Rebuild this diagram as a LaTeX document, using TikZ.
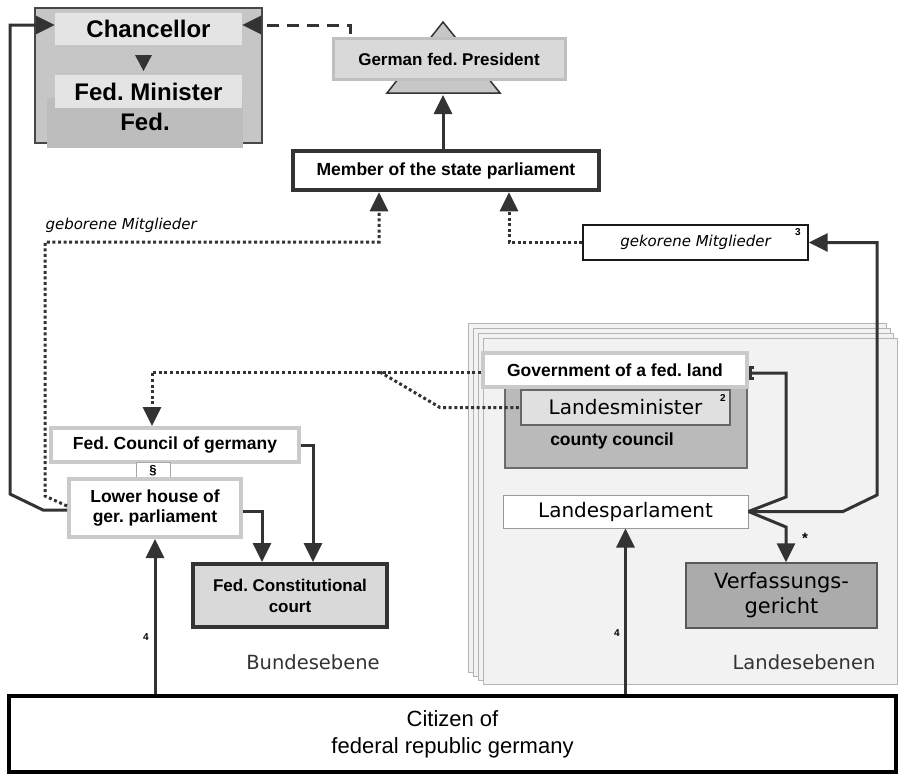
\documentclass[tikz,border=0pt]{standalone}
\usepackage{fontspec}
\setmainfont{Liberation Sans}
\newfontfamily\dejavu{DejaVu Sans}
\usetikzlibrary{arrows.meta}
\frenchspacing
\definecolor{ink}{HTML}{333333}
\definecolor{framegray}{HTML}{C6C6C6}
\definecolor{lightbox}{HTML}{E4E4E4}
\definecolor{softline}{HTML}{CACACA}
\definecolor{sheetfill}{HTML}{F2F2F2}
\definecolor{sheetline}{HTML}{B4B4B4}
\tikzset{
  bold/.style={font=\fontsize{17.5}{20.5}\selectfont\bfseries},
  bigbold/.style={font=\fontsize{24}{28}\selectfont\bfseries},
  dv/.style={font=\dejavu\fontsize{20}{25}\selectfont},
  dvit/.style={font=\dejavu\itshape\fontsize{15}{18}\selectfont},
  tiny/.style={font=\fontsize{10}{12}\selectfont\bfseries},
  plainbox/.style={rectangle, inner sep=0pt, align=center, text=black},
  softbox/.style={plainbox, draw=softline, line width=4pt, fill=white},
  conn/.style={draw=ink, line width=3pt},
  dotconn/.style={draw=ink, line width=3pt, dash pattern=on 3pt off 2.6pt},
  dashconn/.style={draw=ink, line width=3pt, dash pattern=on 12pt off 8pt},
  arr/.style={-{Triangle[length=19pt,width=18pt]}},
  sheet/.style={draw=sheetline, fill=sheetfill, line width=1pt},
}
\begin{document}
\begin{tikzpicture}[x=1pt,y=-1pt]
\useasboundingbox[fill=white] (0,0) rectangle (901,777);

% ---- federal government block ----
\node[plainbox, draw=ink!90, line width=2pt, fill=framegray,
      minimum width=227pt, minimum height=135pt] (fedgov) at (148.5,75.5) {};
\node[plainbox, fill=black!26, minimum width=196pt, minimum height=50pt,
      bigbold] (fedlbl) at (145,123) {\raisebox{2pt}{Fed.}};
\node[plainbox, fill=lightbox, minimum width=187pt, minimum height=32pt,
      bigbold] (chanc) at (148.5,29) {Chancellor};
\node[plainbox, fill=lightbox, minimum width=187pt, minimum height=33pt,
      bigbold] (fmin) at (148.5,91.5) {Fed. Minister};
\fill[ink] (135,55) -- (152,55) -- (143.5,71) -- cycle;

% ---- federal president ----
\draw[draw=ink, line width=1.5pt, fill=black!22] (443,22) -- (500,93) -- (387,93) -- cycle;
\node[plainbox, draw=black!25, line width=3pt, fill=black!15,
      minimum width=232pt, minimum height=41pt, bold] (pres) at (449,59)
      {\fontsize{17}{20}\selectfont German fed. President};
\coordinate (triBase) at (443,95);

% ---- federal convention ----
\node[plainbox, draw=ink, line width=4.5pt, fill=white,
      minimum width=306pt, minimum height=39pt, bold] (member) at (446,170.5)
      {Member of the state parliament};

\node[anchor=base west, dvit, text=black] (geb) at (42,229) {geborene Mitglieder};

\node[plainbox, draw=black!90, line width=1.3pt, fill=white,
      minimum width=225pt, minimum height=35pt, dvit] (gek) at (695.5,242.5)
      {gekorene Mitglieder};
\node[tiny, inner sep=0pt] (gekn) at (798,232) {3};

% ---- state level sheets ----
\draw[sheet] (468,323) rectangle (886,672);
\draw[sheet] (473,328) rectangle (890,676);
\draw[sheet] (478,333) rectangle (893,680);
\draw[sheet] (483,338) rectangle (897,684);

\node[plainbox, draw=black!58, line width=1.2pt, fill=black!27,
      minimum width=242pt, minimum height=96pt] (county) at (626,420) {};
\node[bold, inner sep=0pt] (countylbl) at (612,441) {county council};
\node[plainbox, draw=black!60, line width=1.3pt, fill=black!12,
      minimum width=209pt, minimum height=35pt, dv] (lmin) at (625.5,407.5)
      {Landesminister};
\node[tiny, inner sep=0pt] (lminn) at (723,398) {2};
\node[softbox, minimum width=264pt, minimum height=34pt, bold] (gov) at (615,370)
      {Government of a fed. land};

\node[plainbox, draw=black!40, line width=1pt, fill=white,
      minimum width=245pt, minimum height=33pt, dv] (lpar) at (625.5,511.5)
      {Landesparlament};
\node[plainbox, draw=black!65, line width=1.5pt, fill=black!33,
      minimum width=191pt, minimum height=65pt, dv,
      font=\dejavu\fontsize{21}{25}\selectfont] (vg) at (781.5,595.5)
      {Verfassungs-\\gericht};
\node[anchor=base, dv, text=black!80, font=\dejavu\fontsize{19.5}{24}\selectfont]
      (landes) at (804,669) {Landesebenen};

% ---- federal level ----
\node[softbox, minimum width=248pt, minimum height=34pt, bold] (council) at (175,445)
      {Fed. Council of germany};
\node[plainbox, draw=black!35, line width=1pt, fill=white,
      minimum width=34pt, minimum height=18pt,
      font=\fontsize{13}{14}\selectfont\bfseries] (para) at (153,471) {\S};
\node[softbox, minimum width=172pt, minimum height=58pt, bold] (lower) at (155,508)
      {Lower house of\\ger. parliament};
\node[plainbox, draw=ink, line width=4pt, fill=black!15,
      minimum width=194pt, minimum height=63pt, bold,
      font=\fontsize{17}{21}\selectfont\bfseries] (court) at (290,595.5)
      {Fed. Constitutional\\court};
\node[anchor=base, text=black!80, font=\dejavu\fontsize{19.5}{24}\selectfont]
      (bund) at (313,669) {Bundesebene};

% ---- citizens ----
\node[plainbox, draw=black, line width=4.5pt, fill=white,
      minimum width=887pt, minimum height=76pt,
      font=\fontsize{22}{27}\selectfont] (citizen) at (452.5,734)
      {Citizen of\\federal republic germany};

% ---- connectors ----
\coordinate (tick) at (350,34);
\draw[dashconn, arr] (tick) -- (350,25) -- ([yshift=4pt]chanc.east);
\draw[conn, arr] (member.north -| triBase) -- (triBase);
\draw[conn, arr] ([yshift=-2pt]lower.west) -- (43,510) -- (10,494) -- (10,25)
      -- ([yshift=4pt]chanc.west);
\draw[dotconn, arr] ([yshift=2pt]lower.west) -- (45,496) -- (45,242)
      -| ([xshift=-67pt]member.south);
\draw[dotconn, arr] (gek.west) -| ([xshift=63pt]member.south);
\draw[dotconn, arr] ([yshift=-2pt]gov.west) -| ([xshift=-23pt]council.north);
\draw[dotconn] (380,372) -- (440,407.5) -- (lmin.west);
\draw[conn, arr] (council.east) -| ([xshift=23pt]court.north);
\draw[conn, arr] ([yshift=-3pt]lower.east) -| ([xshift=-28pt]court.north);
\draw[conn, arr] (citizen.north -| lower.south) -- (lower.south);
\draw[conn, arr] (citizen.north -| lpar.south) -- (lpar.south);
\node[tiny] (four1) at (146,637) {4};
\node[tiny] (four2) at (617,633) {4};
\draw[conn, -{Bracket[width=14pt,length=3pt,line width=3pt]}]
      (lpar.east) -- (786,497) |- ([yshift=-3pt]gov.east);
\draw[conn, arr] (lpar.east) -- (843,511.5) -- (877,495) |- (gek.east);
\draw[conn, arr] (lpar.east) -- (786,527) -- ([xshift=4.5pt]vg.north);
\node[font=\fontsize{15}{16}\selectfont\bfseries] (star) at (805,538) {*};
\end{tikzpicture}
\end{document}
